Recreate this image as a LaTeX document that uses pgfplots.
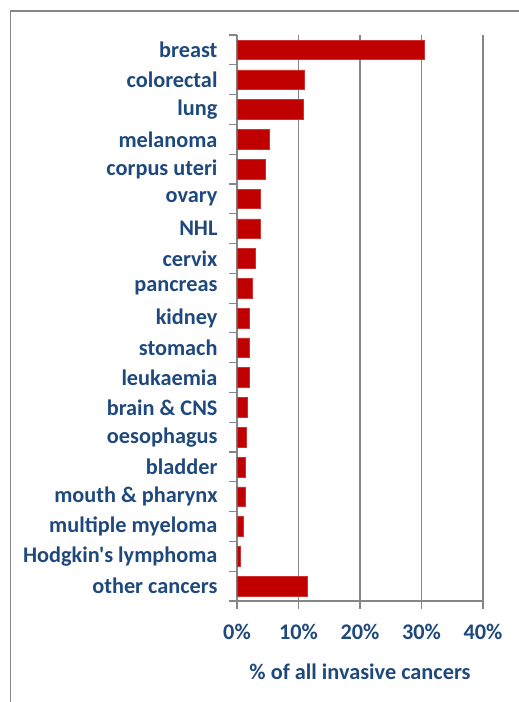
\documentclass[border=0pt]{standalone}
\usepackage{pgfplots}
\pgfplotsset{compat=1.18}
\usepackage{fontspec}
\setmainfont{Carlito}[Ligatures=TeXOff]
\definecolor{lblue}{HTML}{1F497D}
\definecolor{bred}{HTML}{C00000}
\definecolor{gline}{HTML}{868686}
\begin{document}
\begin{tikzpicture}[x=1pt,y=1pt]
\useasboundingbox (0,0) rectangle (519,702);
\draw[gline, line width=1.3pt] (10.5,-10) -- (10.5,691) -- (540,691);
\begin{axis}[
  at={(237pt,101pt)}, anchor=south west,
  scale only axis, width=246pt, height=566pt,
  xbar, bar width=0.66,
  xmin=0, xmax=40, ymin=-0.5, ymax=18.5,
  axis x line*=bottom, axis y line*=left,
  axis line style={gline, line width=1.2pt, -},
  tick align=outside,
  major tick length=8pt, minor tick length=8pt,
  xtick={0,10,20,30,40},
  xticklabels={0\%,10\%,20\%,30\%,40\%},
  xmajorgrids, grid style={gline, line width=1.2pt},
  major x tick style={gline, line width=1.2pt},
  ytick={0,...,18},
  yticklabels={other cancers,Hodgkin's lymphoma,multiple myeloma,mouth \& pharynx,bladder,oesophagus,brain \& CNS,leukaemia,stomach,kidney,pancreas,cervix,NHL,ovary,corpus uteri,melanoma,lung,colorectal,breast},
  minor ytick={-0.5,0.5,...,18.5},
  major y tick style={draw=none},
  minor y tick style={gline, line width=1.2pt},
  ticklabel style={font=\bfseries\fontsize{22.3}{22.3}\selectfont, text=lblue},
  xticklabel style={yshift=-12pt},
  yticklabel style={xshift=-8pt},
  xlabel={\% of all invasive cancers},
  xlabel style={font=\bfseries\fontsize{22.3}{22.3}\selectfont, text=lblue, yshift=-17pt},
  clip=false,
]
\addplot[fill=bred, draw=bred!80!white, line width=0.5pt] coordinates {
(11.4,0) (0.6,1) (1.0,2) (1.3,3) (1.4,4) (1.5,5) (1.65,6) (1.95,7) (2.0,8) (2.05,9)
(2.45,10) (3.0,11) (3.7,12) (3.85,13) (4.6,14) (5.2,15) (10.8,16) (11.0,17) (30.4,18)
};
\end{axis}
\end{tikzpicture}
\end{document}
